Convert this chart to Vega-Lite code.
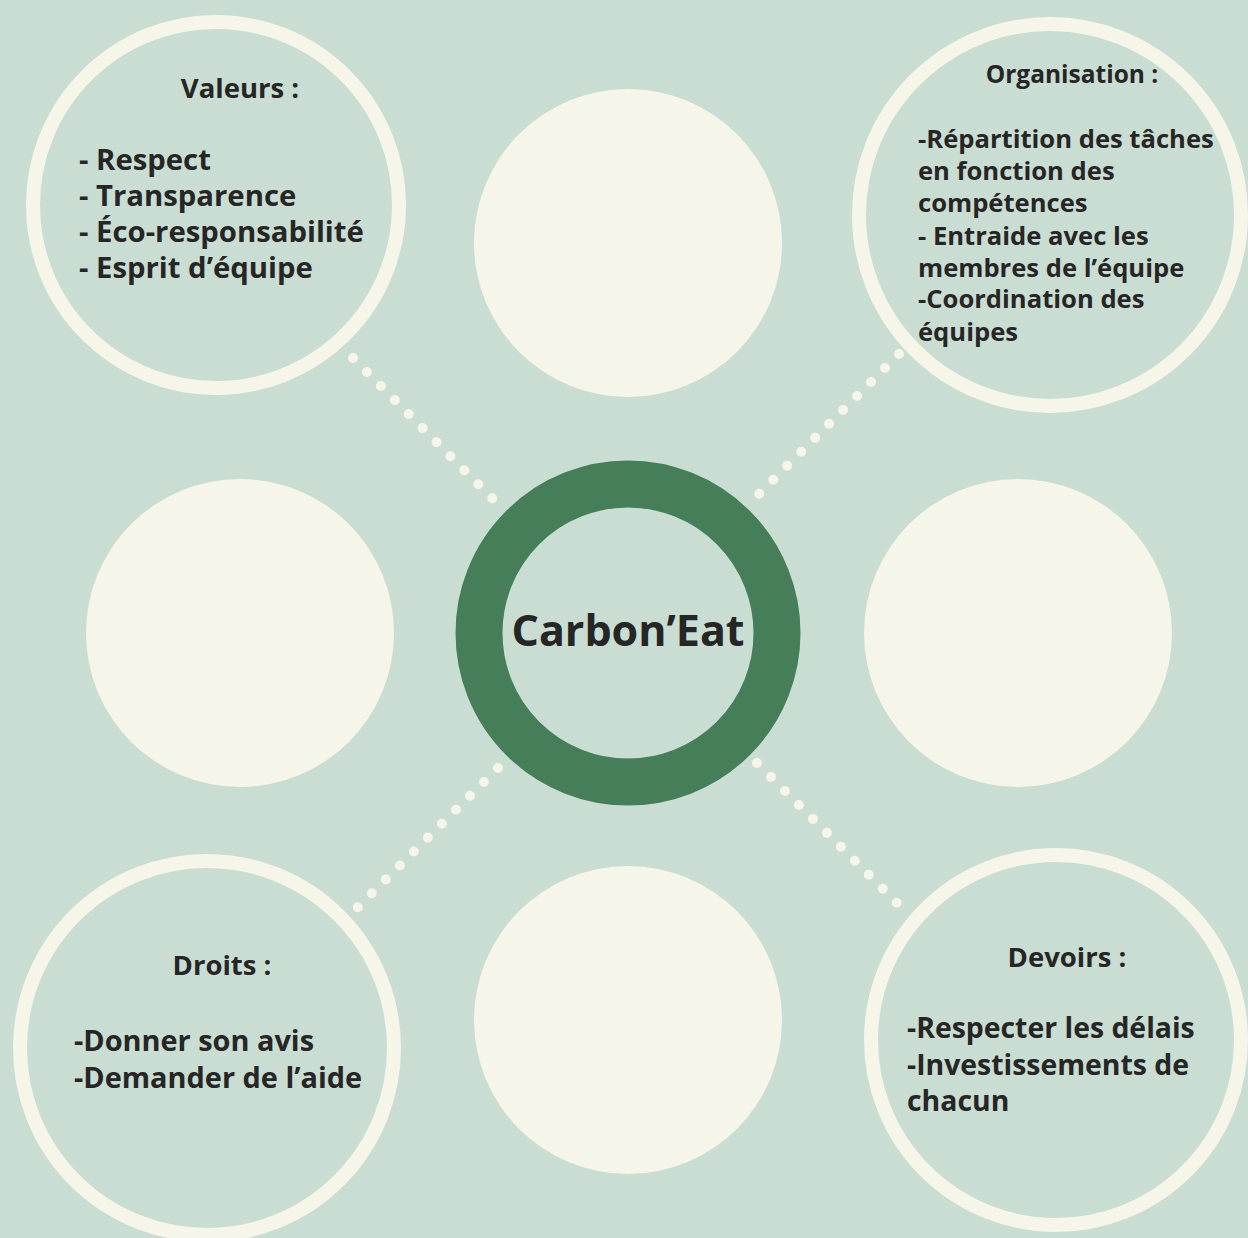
{
  "$schema": "https://vega.github.io/schema/vega-lite/v6.json",
  "width": 1248,
  "height": 1238,
  "autosize": "none",
  "padding": 0,
  "background": "#CADDD2",
  "config": {"view": {"stroke": null}, "text": {"font": "Open Sans", "fontWeight": 700, "color": "#262626"}},
  "datasets": {
    "links": [
      {"link": "Valeurs", "x": 353, "y": 358, "x2": 494, "y2": 500},
      {"link": "Organisation", "x": 899, "y": 354, "x2": 758, "y2": 495},
      {"link": "Droits", "x": 498, "y": 768, "x2": 356, "y2": 909},
      {"link": "Devoirs", "x": 757, "y": 763, "x2": 899, "y2": 905}
    ],
    "rings": [
      {"ring": "Valeurs", "x": 216, "y": 205},
      {"ring": "Organisation", "x": 1050, "y": 215},
      {"ring": "Droits", "x": 207, "y": 1048},
      {"ring": "Devoirs", "x": 1056, "y": 1040}
    ],
    "discs": [
      {"disc": "haut", "x": 628, "y": 243},
      {"disc": "gauche", "x": 240, "y": 633},
      {"disc": "droite", "x": 1018, "y": 633},
      {"disc": "bas", "x": 628, "y": 1020}
    ],
    "centre": [{"label": "Carbon’Eat", "x": 628, "y": 633}],
    "texts": [
      {"block": "TLh", "x": 240, "y": 98, "text": "Valeurs :"},
      {"block": "TL", "x": 79, "y": 170, "text": "- Respect"},
      {"block": "TL", "x": 79, "y": 206, "text": "- Transparence"},
      {"block": "TL", "x": 79, "y": 242, "text": "- Éco-responsabilité"},
      {"block": "TL", "x": 79, "y": 278, "text": "- Esprit d’équipe"},
      {"block": "TRh", "x": 1072, "y": 83, "text": "Organisation :"},
      {"block": "TR", "x": 918, "y": 148, "text": "-Répartition des tâches"},
      {"block": "TR", "x": 918, "y": 180, "text": "en fonction des"},
      {"block": "TR", "x": 918, "y": 212, "text": "compétences"},
      {"block": "TR", "x": 918, "y": 245, "text": "- Entraide avec les"},
      {"block": "TR", "x": 918, "y": 277, "text": "membres de l’équipe"},
      {"block": "TR", "x": 918, "y": 308, "text": "-Coordination des"},
      {"block": "TR", "x": 918, "y": 341, "text": "équipes"},
      {"block": "BLh", "x": 222, "y": 975, "text": "Droits :"},
      {"block": "BL", "x": 74, "y": 1051, "text": "-Donner son avis"},
      {"block": "BL", "x": 74, "y": 1088, "text": "-Demander de l’aide"},
      {"block": "BRh", "x": 1067, "y": 967, "text": "Devoirs :"},
      {"block": "BR", "x": 907, "y": 1038, "text": "-Respecter les délais"},
      {"block": "BR", "x": 907, "y": 1075, "text": "-Investissements de"},
      {"block": "BR", "x": 907, "y": 1111, "text": "chacun"}
    ]
  },
  "encoding": {
    "x": {"field": "x", "type": "quantitative", "scale": {"domain": [0, 1248], "nice": false, "zero": false}, "axis": null},
    "y": {"field": "y", "type": "quantitative", "scale": {"domain": [0, 1238], "nice": false, "zero": false, "reverse": true}, "axis": null}
  },
  "layer": [
    {
      "data": {"name": "links"},
      "mark": {"type": "rule", "stroke": "#F6F5E9", "strokeWidth": 10, "strokeCap": "round", "strokeDash": [0.01, 19.75]},
      "encoding": {"x2": {"field": "x2"}, "y2": {"field": "y2"}}
    },
    {
      "data": {"name": "rings"},
      "transform": [{"filter": "datum.ring === 'Valeurs'"}],
      "mark": {"type": "point", "shape": "circle", "filled": false, "stroke": "#F6F5E9", "strokeWidth": 14, "size": 133956, "opacity": 1}
    },
    {
      "data": {"name": "rings"},
      "transform": [{"filter": "datum.ring === 'Organisation'"}],
      "mark": {"type": "point", "shape": "circle", "filled": false, "stroke": "#F6F5E9", "strokeWidth": 14, "size": 145924, "opacity": 1}
    },
    {
      "data": {"name": "rings"},
      "transform": [{"filter": "datum.ring === 'Droits'"}],
      "mark": {"type": "point", "shape": "circle", "filled": false, "stroke": "#F6F5E9", "strokeWidth": 14, "size": 139876, "opacity": 1}
    },
    {
      "data": {"name": "rings"},
      "transform": [{"filter": "datum.ring === 'Devoirs'"}],
      "mark": {"type": "point", "shape": "circle", "filled": false, "stroke": "#F6F5E9", "strokeWidth": 14, "size": 136900, "opacity": 1}
    },
    {
      "data": {"name": "discs"},
      "mark": {"type": "point", "shape": "circle", "filled": true, "fill": "#F6F5E9", "strokeWidth": 0, "size": 94864, "opacity": 1}
    },
    {
      "data": {"name": "centre"},
      "mark": {"type": "point", "shape": "circle", "filled": false, "stroke": "#457E59", "strokeWidth": 47, "size": 88804, "opacity": 1}
    },
    {
      "data": {"name": "centre"},
      "mark": {"type": "text", "fontSize": 43, "fontWeight": 700, "align": "center", "baseline": "middle", "color": "#262626"},
      "encoding": {"text": {"field": "label"}}
    },
    {
      "data": {"name": "texts"},
      "transform": [{"filter": "datum.block === 'TLh' || datum.block === 'BLh' || datum.block === 'BRh'"}],
      "mark": {"type": "text", "fontSize": 27.5, "align": "center", "baseline": "alphabetic"},
      "encoding": {"text": {"field": "text"}}
    },
    {
      "data": {"name": "texts"},
      "transform": [{"filter": "datum.block === 'TRh'"}],
      "mark": {"type": "text", "fontSize": 24.5, "align": "center", "baseline": "alphabetic"},
      "encoding": {"text": {"field": "text"}}
    },
    {
      "data": {"name": "texts"},
      "transform": [{"filter": "datum.block === 'TL'"}],
      "mark": {"type": "text", "fontSize": 29.3, "align": "left", "baseline": "alphabetic"},
      "encoding": {"text": {"field": "text"}}
    },
    {
      "data": {"name": "texts"},
      "transform": [{"filter": "datum.block === 'BL'"}],
      "mark": {"type": "text", "fontSize": 28.9, "align": "left", "baseline": "alphabetic"},
      "encoding": {"text": {"field": "text"}}
    },
    {
      "data": {"name": "texts"},
      "transform": [{"filter": "datum.block === 'BR'"}],
      "mark": {"type": "text", "fontSize": 28.4, "align": "left", "baseline": "alphabetic"},
      "encoding": {"text": {"field": "text"}}
    },
    {
      "data": {"name": "texts"},
      "transform": [{"filter": "datum.block === 'TR'"}],
      "mark": {"type": "text", "fontSize": 25.6, "align": "left", "baseline": "alphabetic"},
      "encoding": {"text": {"field": "text"}}
    }
  ]
}
